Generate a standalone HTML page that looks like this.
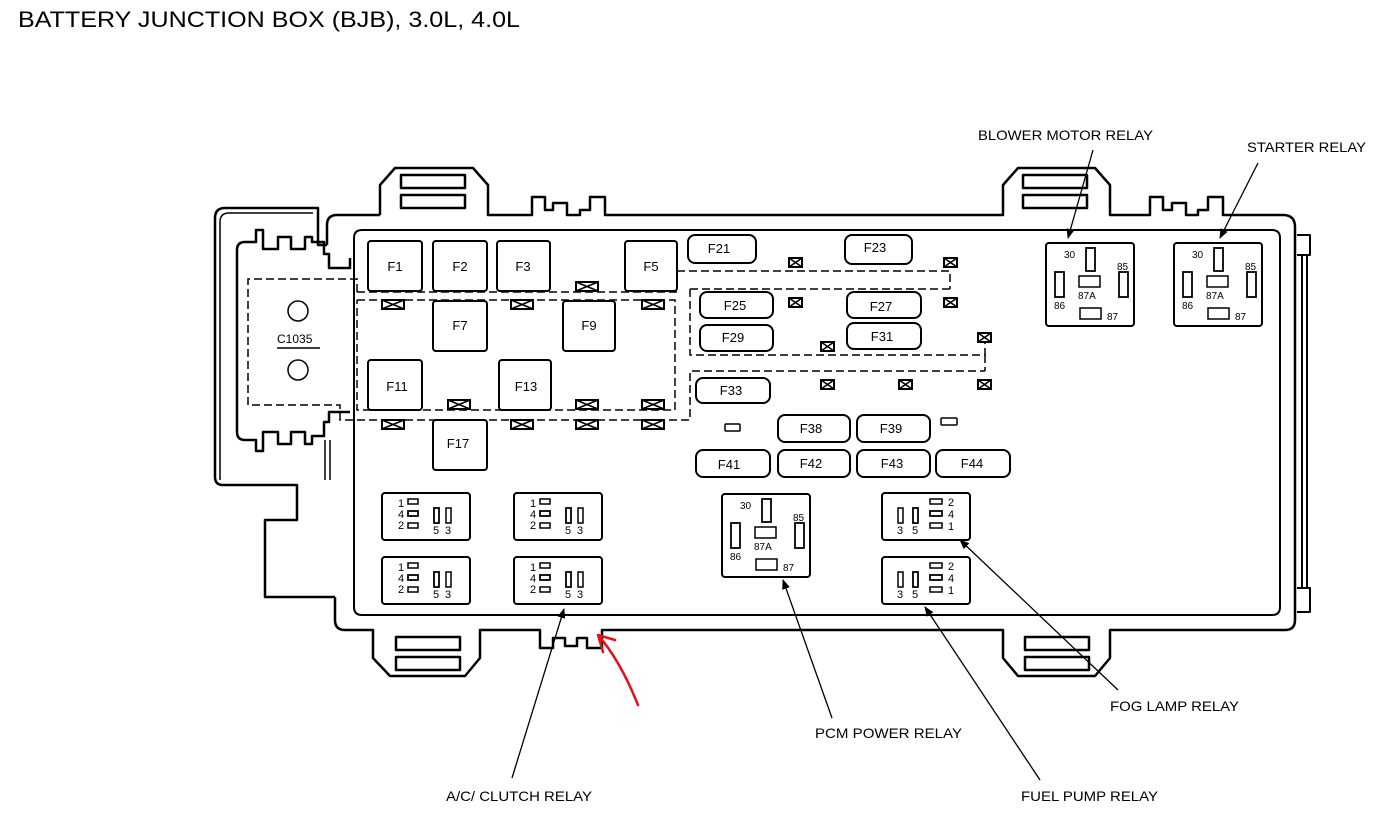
<!DOCTYPE html>
<html><head><meta charset="utf-8"><style>
html,body{margin:0;padding:0;background:#fff;}
svg{display:block;font-family:"Liberation Sans",Arial,sans-serif;}
</style></head><body>
<svg width="1388" height="824" viewBox="0 0 1388 824" xmlns="http://www.w3.org/2000/svg">
<defs>
<marker id="ah" markerWidth="10" markerHeight="10" refX="9" refY="5" orient="auto" markerUnits="userSpaceOnUse">
<path d="M0,1 L10,5 L0,9 z" fill="#000"/></marker>
<g id="xb"><rect x="0" y="0" width="22" height="9" fill="#fff" stroke="#000" stroke-width="2"/><path d="M0,0 L22,9 M22,0 L0,9" stroke="#000" stroke-width="1.5"/></g>
<g id="xs"><rect x="0" y="0" width="13" height="9" fill="#fff" stroke="#000" stroke-width="2"/><path d="M0,0 L13,9 M13,0 L0,9" stroke="#000" stroke-width="1.5"/></g>
<g id="rl" font-size="11">
<rect x="0" y="0" width="88" height="47" rx="3" fill="#fff" stroke="#000" stroke-width="2"/>
<text x="16" y="14">1</text><text x="16" y="25">4</text><text x="16" y="36">2</text>
<rect x="26" y="6" width="10" height="5" fill="none" stroke="#000" stroke-width="1.5"/>
<rect x="26" y="18" width="10" height="5" fill="none" stroke="#000" stroke-width="1.8"/>
<rect x="26" y="30" width="10" height="5" fill="none" stroke="#000" stroke-width="1.5"/>
<rect x="52" y="15" width="5" height="15" fill="none" stroke="#000" stroke-width="1.8"/>
<rect x="64" y="15" width="5" height="15" fill="none" stroke="#000" stroke-width="1.5"/>
<text x="51" y="41">5</text><text x="63" y="41">3</text>
</g>
<g id="rr" font-size="11">
<rect x="0" y="0" width="88" height="47" rx="3" fill="#fff" stroke="#000" stroke-width="2"/>
<rect x="16" y="15" width="5" height="15" fill="none" stroke="#000" stroke-width="1.5"/>
<rect x="31" y="15" width="5" height="15" fill="none" stroke="#000" stroke-width="1.8"/>
<text x="15" y="41">3</text><text x="30" y="41">5</text>
<rect x="48" y="6" width="12" height="5" fill="none" stroke="#000" stroke-width="1.5"/>
<rect x="48" y="18" width="12" height="5" fill="none" stroke="#000" stroke-width="1.8"/>
<rect x="48" y="30" width="12" height="5" fill="none" stroke="#000" stroke-width="1.5"/>
<text x="66" y="13">2</text><text x="66" y="25">4</text><text x="66" y="37">1</text>
</g>
<g id="rb" font-size="10">
<rect x="0" y="0" width="88" height="83" rx="3" fill="#fff" stroke="#000" stroke-width="2"/>
<text x="18" y="15">30</text>
<rect x="40" y="5" width="9" height="23" fill="none" stroke="#000" stroke-width="1.8"/>
<text x="71" y="27">85</text>
<rect x="9" y="29" width="9" height="25" fill="none" stroke="#000" stroke-width="1.8"/>
<rect x="73" y="29" width="9" height="25" fill="none" stroke="#000" stroke-width="1.8"/>
<rect x="33" y="33" width="21" height="11" fill="none" stroke="#000" stroke-width="1.5"/>
<text x="32" y="56">87A</text>
<text x="8" y="66">86</text>
<rect x="34" y="65" width="21" height="11" fill="none" stroke="#000" stroke-width="1.5"/>
<text x="61" y="77">87</text>
</g>
</defs>

<text x="18" y="27" font-size="22" textLength="502" lengthAdjust="spacingAndGlyphs">BATTERY JUNCTION BOX (BJB), 3.0L, 4.0L</text>

<g fill="none" stroke="#000" stroke-width="2.5" stroke-linejoin="round">
<path d="M380,215 L380,185 L395,168 L473,168 L488,185 L488,215 L532,215 L532,197 L545,197 L545,210 L553,210 L553,203 L567,203 L567,215 L580,215 L580,210 L590,210 L590,197 L605,197 L605,215 L1003,215 L1003,185 L1018,168 L1095,168 L1110,185 L1110,215 L1150,215 L1150,197 L1163,197 L1163,210 L1172,210 L1172,203 L1186,203 L1186,215 L1198,215 L1198,210 L1208,210 L1208,197 L1223,197 L1223,215 L1283,215 Q1295,215 1295,227 L1295,620 Q1295,630 1285,630 L1110,630 L1110,658 L1095,676 L1018,676 L1003,658 L1003,630 L602,630 L602,648 L587,648 L587,638 L577,638 L577,646 L565,646 L565,638 L553,638 L553,648 L540,648 L540,630 L480,630 L480,658 L465,676 L390,676 L373,658 L373,630 L345,630 Q335,630 335,620 L335,597"/>
<path d="M335,597 L265,597 L265,520 L297,520 L297,485 L223,485 Q215,485 215,477 L215,218 Q215,208 225,208 L318,208 L318,245 L327,245"/>
<path d="M220,480 L220,222 Q220,213 229,213 L313,213" stroke-width="1.5"/>
<path d="M327,245 L327,225 Q327,215 337,215 L380,215"/>
<path d="M350,258 L350,268 L329,268 L329,254 L324,254 L324,242 L312,242 L312,237 L305,237 L305,249 L291,249 L291,237 L278,237 L278,249 L263,249 L263,230 L256,230 L256,242 L245,242 Q237,242 237,250 L237,432 Q237,440 245,440 L256,440 L256,451 L263,451 L263,432 L278,432 L278,444 L291,444 L291,432 L305,432 L305,444 L312,444 L312,436 L324,436 L324,422 L329,422 L329,412 L350,412"/>
<path d="M325,440 L325,480 M330,440 L330,480" stroke-width="1.5"/>
<path d="M362,230 L1272,230 Q1280,230 1280,238 L1280,607 Q1280,615 1272,615 L362,615 Q354,615 354,607 L354,238 Q354,230 362,230 z" stroke-width="2"/>
<path d="M1297,235 L1310,235 L1310,255 L1297,255 M1297,588 L1310,588 L1310,612 L1297,612 M1302,255 L1302,588 M1307,255 L1307,588" stroke-width="2"/>
<rect x="401" y="175" width="64" height="13" stroke-width="2.5"/>
<rect x="401" y="195" width="64" height="13" stroke-width="2.5"/>
<rect x="1023" y="175" width="64" height="13" stroke-width="2.5"/>
<rect x="1023" y="195" width="64" height="13" stroke-width="2.5"/>
<rect x="396" y="637" width="64" height="13" stroke-width="2.5"/>
<rect x="396" y="657" width="64" height="13" stroke-width="2.5"/>
<rect x="1025" y="637" width="64" height="13" stroke-width="2.5"/>
<rect x="1025" y="657" width="64" height="13" stroke-width="2.5"/>
</g>

<g fill="none" stroke="#000" stroke-width="1.5">
<circle cx="298" cy="311" r="10"/><circle cx="298" cy="370" r="10"/>
<path d="M277,348 L320,348"/>
</g>
<text x="277" y="343" font-size="12">C1035</text>

<g fill="none" stroke="#000" stroke-width="1.5" stroke-dasharray="8,4">
<path d="M357,292 L357,279 L248,279 L248,405 L340,405 L340,420 L690,420 L690,371 L985,371"/>
<path d="M357,292 L677,292 M357,300 L675,300 L675,410 L357,410 L357,300"/>
<path d="M677,271 L950,271 L950,289 M690,289 L950,289 M690,289 L690,355 L985,355 L985,340 M985,355 L985,371"/>
</g>

<use href="#xb" x="382" y="300"/><use href="#xb" x="511" y="300"/><use href="#xb" x="642" y="300"/>
<use href="#xb" x="576" y="282"/><use href="#xb" x="448" y="400"/><use href="#xb" x="576" y="400"/>
<use href="#xb" x="642" y="400"/><use href="#xb" x="382" y="420"/><use href="#xb" x="511" y="420"/>
<use href="#xb" x="576" y="420"/><use href="#xb" x="642" y="420"/>
<use href="#xs" x="789" y="258"/><use href="#xs" x="789" y="298"/>
<use href="#xs" x="944" y="258"/><use href="#xs" x="944" y="298"/>
<use href="#xs" x="821" y="342"/><use href="#xs" x="978" y="333"/>
<use href="#xs" x="821" y="380"/><use href="#xs" x="899" y="380"/><use href="#xs" x="978" y="380"/>

<g fill="#fff" stroke="#000" stroke-width="2">
<rect x="368" y="241" width="54" height="50" rx="3"/>
<rect x="433" y="241" width="54" height="50" rx="3"/>
<rect x="497" y="241" width="53" height="50" rx="3"/>
<rect x="625" y="241" width="52" height="50" rx="3"/>
<rect x="433" y="301" width="54" height="50" rx="3"/>
<rect x="563" y="301" width="52" height="50" rx="3"/>
<rect x="368" y="360" width="54" height="50" rx="3"/>
<rect x="499" y="360" width="52" height="50" rx="3"/>
<rect x="433" y="420" width="54" height="50" rx="3"/>
</g>
<g font-size="13" text-anchor="middle">
<text x="395" y="271">F1</text><text x="460" y="271">F2</text><text x="523" y="271">F3</text><text x="651" y="271">F5</text>
<text x="460" y="330">F7</text><text x="589" y="330">F9</text><text x="397" y="391">F11</text><text x="526" y="391">F13</text><text x="458" y="448">F17</text>
</g>

<g fill="#fff" stroke="#000" stroke-width="2">
<rect x="688" y="235" width="68" height="28" rx="7"/>
<rect x="845" y="235" width="67" height="29" rx="7"/>
<rect x="700" y="292" width="73" height="26" rx="7"/>
<rect x="847" y="292" width="74" height="26" rx="7"/>
<rect x="700" y="325" width="73" height="26" rx="7"/>
<rect x="847" y="323" width="74" height="26" rx="7"/>
<rect x="696" y="378" width="74" height="25" rx="7"/>
<rect x="778" y="415" width="72" height="27" rx="7"/>
<rect x="857" y="415" width="73" height="27" rx="7"/>
<rect x="696" y="450" width="74" height="27" rx="7"/>
<rect x="778" y="450" width="72" height="27" rx="7"/>
<rect x="857" y="450" width="73" height="27" rx="7"/>
<rect x="936" y="450" width="74" height="27" rx="7"/>
<rect x="725" y="424" width="15" height="7" rx="1" stroke-width="1.5"/>
<rect x="941" y="418" width="16" height="7" rx="1" stroke-width="1.5"/>
</g>
<g font-size="13" text-anchor="middle">
<text x="719" y="253">F21</text><text x="875" y="252">F23</text><text x="735" y="310">F25</text><text x="881" y="311">F27</text>
<text x="733" y="342">F29</text><text x="882" y="341">F31</text><text x="731" y="395">F33</text><text x="811" y="433">F38</text>
<text x="891" y="433">F39</text><text x="729" y="469">F41</text><text x="811" y="468">F42</text><text x="892" y="468">F43</text><text x="972" y="468">F44</text>
</g>

<use href="#rb" x="1046" y="243"/>
<use href="#rb" x="1174" y="243"/>
<use href="#rb" x="722" y="494"/>
<use href="#rl" x="382" y="493"/><use href="#rl" x="382" y="557"/>
<use href="#rl" x="514" y="493"/><use href="#rl" x="514" y="557"/>
<use href="#rr" x="882" y="493"/><use href="#rr" x="882" y="557"/>

<g stroke="#000" stroke-width="1.3" fill="none" marker-end="url(#ah)">
<path d="M1093,150 L1068,238"/>
<path d="M1258,163 L1220,238"/>
<path d="M1118,690 L960,540"/>
<path d="M1040,780 L925,607"/>
<path d="M832,718 L783,580"/>
<path d="M512,778 L564,609"/>
</g>
<path d="M638,705 Q620,660 598,635 M598,635 L615,640 M598,635 L603,652" stroke="#e0141b" stroke-width="2.5" fill="none" stroke-linecap="round"/>

<g font-size="14">
<text x="978" y="140" textLength="175" lengthAdjust="spacingAndGlyphs">BLOWER MOTOR RELAY</text>
<text x="1247" y="152" textLength="119" lengthAdjust="spacingAndGlyphs">STARTER RELAY</text>
<text x="1110" y="711" textLength="129" lengthAdjust="spacingAndGlyphs">FOG LAMP RELAY</text>
<text x="815" y="738" textLength="147" lengthAdjust="spacingAndGlyphs">PCM POWER RELAY</text>
<text x="1021" y="801" textLength="137" lengthAdjust="spacingAndGlyphs">FUEL PUMP RELAY</text>
<text x="446" y="801" textLength="146" lengthAdjust="spacingAndGlyphs">A/C/ CLUTCH RELAY</text>
</g>
</svg>
</body></html>
